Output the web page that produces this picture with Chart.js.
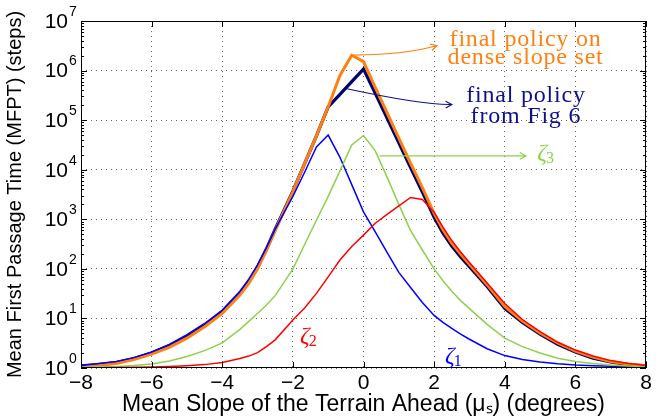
<!DOCTYPE html>
<html>
<head>
<meta charset="utf-8">
<script src="https://cdn.jsdelivr.net/npm/chart.js@4/dist/chart.umd.min.js"></script>
<style>
  html, body { margin: 0; padding: 0; background: #fff; }
</style>
</head>
<body>
<canvas id="mfpt" width="665" height="418"></canvas>
<script>
// mean slope of terrain ahead (degrees)
const slopes = [-8, -7.5, -7, -6.5, -6, -5.5, -5, -4.5, -4, -3.5, -3.25, -3, -2.75, -2.5, -2, -1.667, -1.333, -1, -0.667, -0.333,
  0, 0.333, 0.667, 1, 1.333, 1.667, 2, 2.25, 2.5, 2.75, 3, 3.5, 4, 4.5, 5, 5.5, 6, 6.5, 7, 7.5, 8];

// MFPT (steps) per policy
const zeta1 = [1.12, 1.23, 1.35, 1.62, 2.1, 3.0, 4.7, 7.9, 14.8, 35.5, 62, 120, 263, 631, 2900, 8900, 28800, 50000, 17800, 5000,
  1410, 560, 214, 85, 42, 21, 11.5, 8.3, 6.3, 4.8, 3.8, 2.45, 1.78, 1.48, 1.32, 1.22, 1.15, 1.11, 1.08, 1.06, 1.05];
const zeta2 = [1.01, 1.016, 1.023, 1.035, 1.05, 1.07, 1.11, 1.17, 1.29, 1.55, 1.74, 2.04, 2.69, 3.7, 9.3, 16.2, 32, 69, 151, 282,
  479, 832, 1260, 1860, 2750, 2500, 1380, 692, 372, 219, 135, 52, 20, 9.5, 5.4, 3.3, 2.3, 1.74, 1.41, 1.23, 1.12];
const zeta3 = [1.035, 1.05, 1.07, 1.12, 1.2, 1.38, 1.7, 2.24, 3.2, 6.0, 8.7, 12.6, 18.6, 28.8, 100, 310, 955, 2900, 9500, 31600,
  49000, 24000, 7100, 2000, 590, 240, 100, 57.5, 35.5, 22.9, 15.8, 7.6, 4.0, 2.7, 2.0, 1.58, 1.35, 1.23, 1.15, 1.1, 1.07];
const figSixPolicy = [1.10, 1.17, 1.29, 1.55, 2.0, 2.8, 4.3, 7.2, 13.5, 32, 55, 110, 251, 631, 3700, 13200, 48000, 186000, 330000, 600000,
  1070000, 350000, 110000, 35000, 11000, 3550, 1100, 525, 288, 174, 110, 44, 16, 8.3, 4.8, 3.0, 2.1, 1.58, 1.32, 1.17, 1.10];
const densePolicy = [1.05, 1.12, 1.23, 1.48, 1.9, 2.6, 4.0, 6.8, 12.6, 29.5, 51, 100, 234, 589, 3630, 13200, 48000, 186000, 800000, 2040000,
  1510000, 457000, 141000, 43600, 13500, 4370, 1320, 617, 331, 200, 123, 48, 17.4, 8.9, 5.1, 3.2, 2.2, 1.66, 1.35, 1.2, 1.11];

const yTickPowers = [0, 1, 2, 3, 4, 5, 6, 7];
const xTicks = [-8, -6, -4, -2, 0, 2, 4, 6, 8];

const colors = {
  zeta1: "#0000ff",
  zeta2: "#ff0000",
  zeta3: "#8ed14b",
  fig6: "#00006e",
  fig6Text: "#10108a",
  dense: "#ff8010",
};

const pts = (arr) => slopes.map((s, i) => ({ x: s, y: arr[i] }));

Chart.defaults.font.family = "'Liberation Sans', Arial, sans-serif";
Chart.defaults.color = "#000";

// frame, inward ticks, 10^k labels, text + arrows
const notes = {
  id: "notes",
  afterDraw(chart) {
    const { ctx, chartArea: a, scales } = chart;
    const px = (v) => scales.x.getPixelForValue(v);
    const py = (v) => scales.y.getPixelForValue(v);
    ctx.save();
    ctx.strokeStyle = "#000";
    ctx.lineWidth = 1;
    ctx.strokeRect(a.left + 0.5, a.top + 0.5, a.right - a.left - 1, a.bottom - a.top - 1);
    ctx.beginPath();
    xTicks.forEach((v) => {
      const X = Math.round(px(v)) + 0.5;
      ctx.moveTo(X, a.bottom); ctx.lineTo(X, a.bottom - 6);
      ctx.moveTo(X, a.top); ctx.lineTo(X, a.top + 6);
    });
    for (let k = 0; k < 7; k++) {
      for (let m = 1; m < 10; m++) {
        const Y = Math.round(py(m * 10 ** k)) + 0.5;
        const len = m === 1 ? 6 : 3;
        ctx.moveTo(a.left, Y); ctx.lineTo(a.left + len, Y);
        ctx.moveTo(a.right, Y); ctx.lineTo(a.right - len, Y);
      }
    }
    ctx.stroke();

    // y tick labels as 10 with raised exponent
    ctx.fillStyle = "#000";
    ctx.textBaseline = "middle";
    yTickPowers.forEach((k) => {
      const Y = py(10 ** k);
      ctx.font = "21px 'Liberation Sans', Arial, sans-serif";
      ctx.textAlign = "right";
      ctx.fillText("10", a.left - 13, Y + 1);
      ctx.font = "14px 'Liberation Sans', Arial, sans-serif";
      ctx.textAlign = "left";
      ctx.fillText(String(k), a.left - 12, Y - 9);
    });

    const arrow = (p0, c, p1, color) => {
      const x0 = px(p0[0]), y0 = py(p0[1]);
      const cx = px(c[0]), cy = py(c[1]);
      const x1 = px(p1[0]), y1 = py(p1[1]);
      ctx.strokeStyle = color;
      ctx.lineWidth = 1.2;
      ctx.beginPath();
      ctx.moveTo(x0, y0);
      ctx.quadraticCurveTo(cx, cy, x1, y1);
      ctx.stroke();
      const ang = Math.atan2(y1 - cy, x1 - cx);
      ctx.beginPath();
      ctx.moveTo(x1 - 7 * Math.cos(ang - 0.5), y1 - 7 * Math.sin(ang - 0.5));
      ctx.lineTo(x1, y1);
      ctx.lineTo(x1 - 7 * Math.cos(ang + 0.5), y1 - 7 * Math.sin(ang + 0.5));
      ctx.stroke();
    };
    const text = (str, v, color) => {
      ctx.font = "24px 'Liberation Serif', serif";
      ctx.letterSpacing = "0.8px";
      ctx.fillStyle = color;
      ctx.textAlign = "center";
      ctx.textBaseline = "alphabetic";
      ctx.fillText(str, px(v[0]), py(v[1]));
      ctx.letterSpacing = "0px";
    };
    const zeta = (sub, v, color) => {
      ctx.font = "italic 24px 'Liberation Serif', serif";
      ctx.fillStyle = color;
      ctx.textAlign = "left";
      ctx.textBaseline = "alphabetic";
      const X = px(v[0]), Y = py(v[1]);
      ctx.fillText("ζ", X, Y);
      const w = ctx.measureText("ζ").width;
      ctx.font = "16px 'Liberation Serif', serif";
      ctx.fillText(sub, X + w - 1, Y + 3);
    };

    arrow([-0.28, 2.05e6], [1.23, 2.1e6], [2.08, 3.2e6], colors.dense);
    text("final policy on", [4.59, 3.2e6], colors.dense);
    text("dense slope set", [4.59, 1.36e6], colors.dense);

    arrow([-0.47, 4.3e5], [1.7, 2.0e5], [2.5, 2.07e5], colors.fig6Text);
    text("final policy", [4.6, 2.3e5], colors.fig6Text);
    text("from Fig 6", [4.6, 8.8e4], colors.fig6Text);

    arrow([0.45, 1.9e4], [2.5, 1.9e4], [4.6, 1.9e4], colors.zeta3);
    zeta("3", [4.92, 1.56e4], colors.zeta3);
    zeta("2", [-1.8, 3.2], colors.zeta2);
    zeta("1", [2.31, 1.27], colors.zeta1);
    ctx.restore();
  },
};

new Chart(document.getElementById("mfpt"), {
  type: "line",
  data: {
    datasets: [
      { label: "zeta2", data: pts(zeta2), borderColor: colors.zeta2, borderWidth: 1.5, order: 1 },
      { label: "zeta3", data: pts(zeta3), borderColor: colors.zeta3, borderWidth: 1.5, order: 2 },
      { label: "zeta1", data: pts(zeta1), borderColor: colors.zeta1, borderWidth: 1.5, order: 3 },
      { label: "final policy on dense slope set", data: pts(densePolicy), borderColor: colors.dense, borderWidth: 3, order: 4 },
      { label: "final policy from Fig 6", data: pts(figSixPolicy), borderColor: colors.fig6, borderWidth: 3.2, order: 5 },
    ],
  },
  options: {
    responsive: false,
    animation: false,
    events: [],
    layout: { padding: { left: 3, right: 19, top: 21, bottom: 0 } },
    elements: { point: { radius: 0 }, line: { tension: 0, fill: false } },
    plugins: { legend: { display: false }, tooltip: { enabled: false } },
    scales: {
      x: {
        type: "linear",
        min: -8,
        max: 8,
        afterBuildTicks: (s) => { s.ticks = xTicks.map((v) => ({ value: v })); },
        afterFit: (s) => { s.height = 50; },
        ticks: {
          font: { size: 21 },
          padding: 3,
          maxRotation: 0,
          callback: (v) => String(v).replace("-", "\u2212"),
        },
        grid: { color: "#666", lineWidth: 1, drawTicks: false },
        border: { display: false, dash: [1, 4] },
        title: {
          display: true,
          text: "Mean Slope of the Terrain Ahead (μₛ) (degrees)",
          font: { size: 23 },
          padding: 0,
        },
      },
      y: {
        type: "logarithmic",
        min: 1,
        max: 1e7,
        afterBuildTicks: (s) => { s.ticks = yTickPowers.map((k) => ({ value: 10 ** k })); },
        afterFit: (s) => { s.width = 78; },
        ticks: { display: false },
        grid: { color: "#666", lineWidth: 1, drawTicks: false },
        border: { display: false, dash: [1, 4] },
        title: {
          display: true,
          text: "Mean First Passage Time (MFPT) (steps)",
          font: { size: 20 },
          padding: 0,
        },
      },
    },
  },
  plugins: [notes],
});
</script>
</body>
</html>
